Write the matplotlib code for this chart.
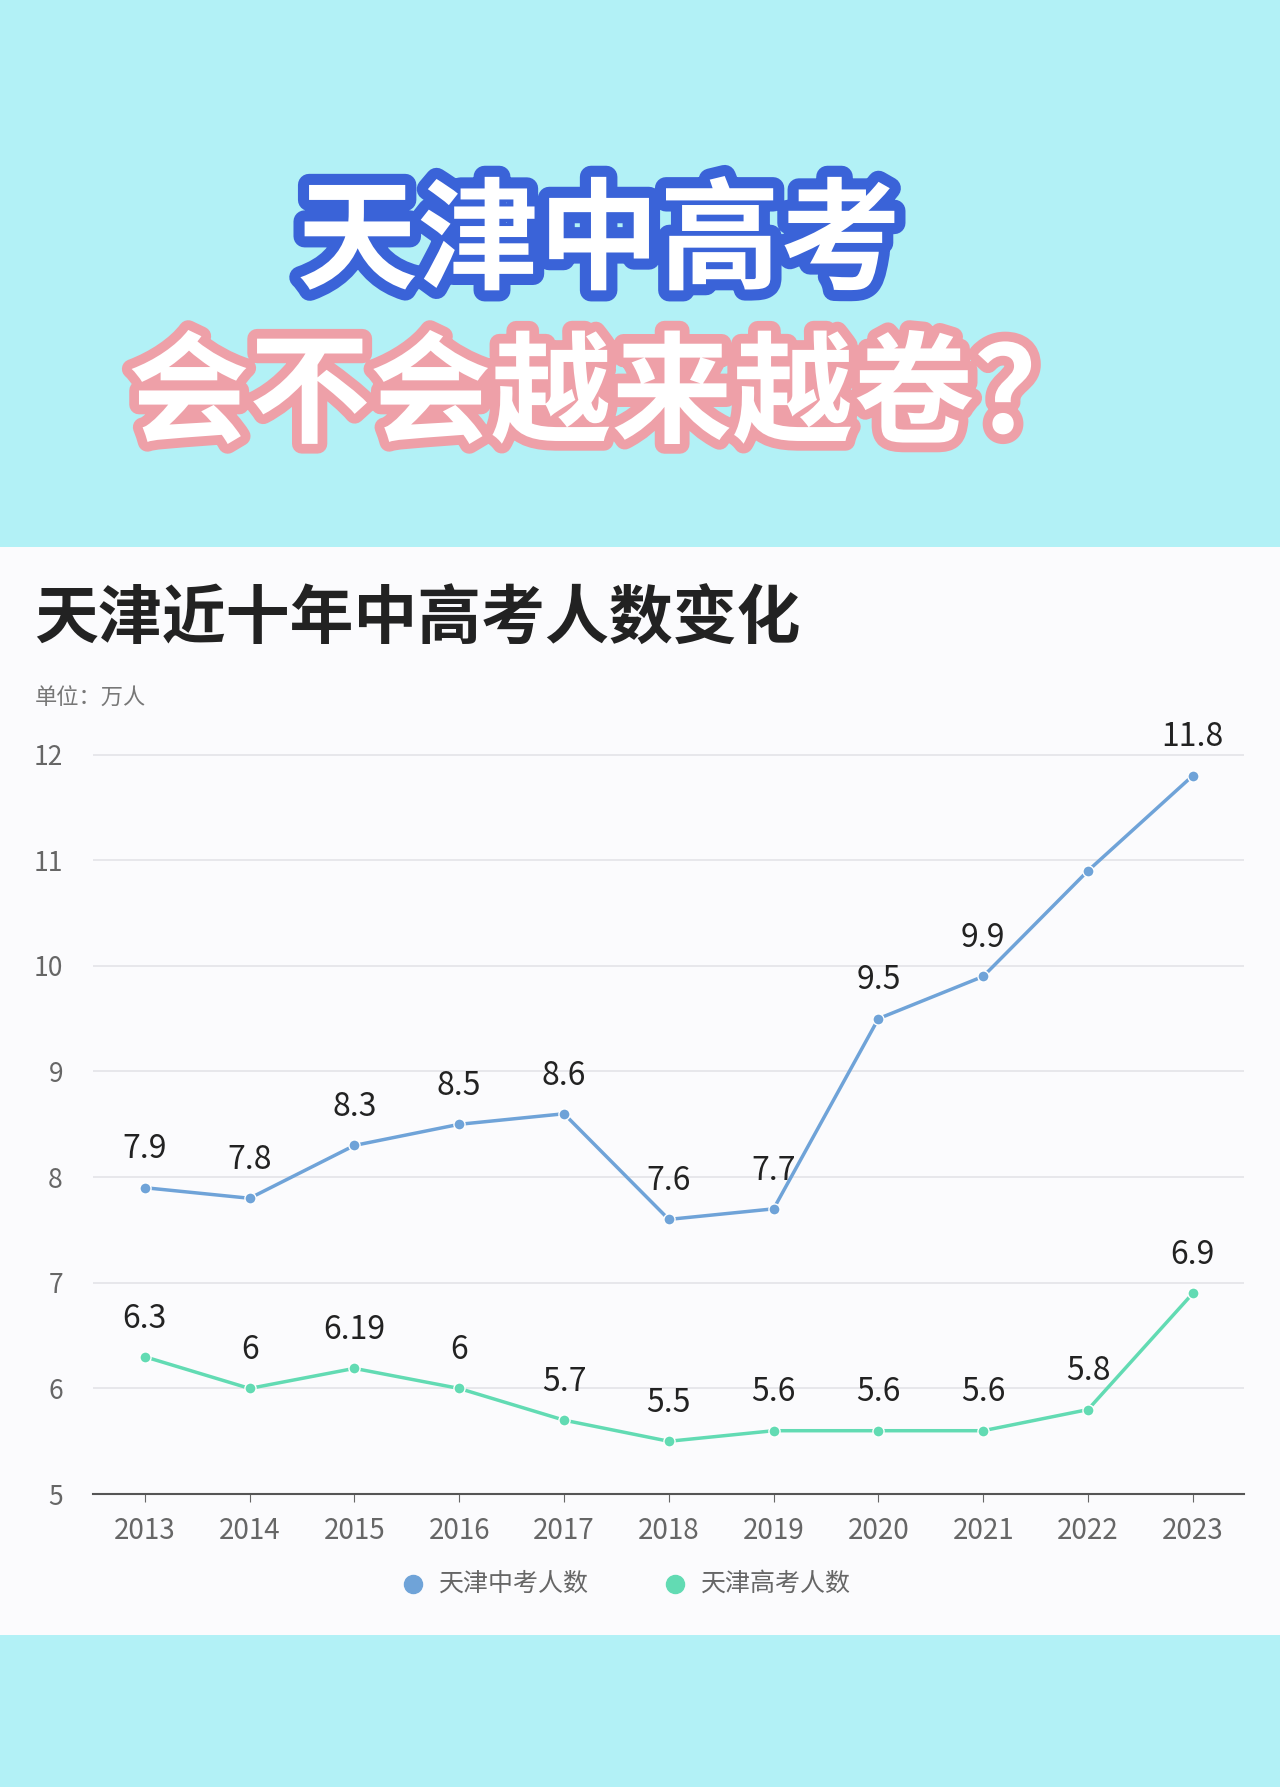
import matplotlib
matplotlib.use("Agg")
import matplotlib.pyplot as plt
import matplotlib.patheffects as pe
from matplotlib.patches import Rectangle

plt.rcParams['font.family'] = ['Noto Sans CJK SC', 'DejaVu Sans']

years = [2013, 2014, 2015, 2016, 2017, 2018, 2019, 2020, 2021, 2022, 2023]
zhongkao = [7.9, 7.8, 8.3, 8.5, 8.6, 7.6, 7.7, 9.5, 9.9, 10.9, 11.8]
gaokao = [6.3, 6.0, 6.19, 6.0, 5.7, 5.5, 5.6, 5.6, 5.6, 5.8, 6.9]
zk_labels = ["7.9", "7.8", "8.3", "8.5", "8.6", "7.6", "7.7", "9.5", "9.9", "", "11.8"]
gk_labels = ["6.3", "6", "6.19", "6", "5.7", "5.5", "5.6", "5.6", "5.6", "5.8", "6.9"]
yticks = [5, 6, 7, 8, 9, 10, 11, 12]

BG = "#b2f1f6"
BLUE = "#6fa3d8"
GREEN = "#62dbb3"

fig = plt.figure(figsize=(12.8, 17.87), dpi=100)
fig.patch.set_facecolor(BG)
fig.add_artist(Rectangle((0, 1 - 1435/1568), 1, (1435-480)/1568, transform=fig.transFigure,
                         facecolor="#fbfbfd", edgecolor="none", zorder=0))

fig.text(0.468, 0.863, "天津中高考", ha="center", va="center", fontsize=87, fontweight="bold",
         color="white", path_effects=[pe.withStroke(linewidth=16, foreground="#3a63d8")])
fig.text(0.478, 0.777, "会不会越来越卷？", ha="center", va="center", fontsize=87, fontweight="bold",
         color="white", path_effects=[pe.withStroke(linewidth=14, foreground="#eea0a8")])

fig.text(0.027, 0.653, "天津近十年中高考人数变化", ha="left", va="center", fontsize=46,
         fontweight="heavy", color="#222222")
fig.text(0.027, 0.609, "单位：万人", ha="left", va="center", fontsize=16, color="#777777")

ax = fig.add_axes([0.073, 1 - 1311/1568, 0.899, (1311-650)/1568])
ax.set_facecolor("none")
ax.set_xlim(2012.51, 2023.49)
ax.set_ylim(5, 12.13)
ax.set_yticks(yticks)
ax.set_xticks(years)
ax.grid(axis="y", color="#e4e4e8", linewidth=1.2)
for s in ["top", "right", "left"]:
    ax.spines[s].set_visible(False)
ax.spines["bottom"].set_color("#555555")
ax.spines["bottom"].set_linewidth(1.5)
ax.tick_params(axis="y", length=0, labelsize=19, colors="#666666", pad=22)
ax.tick_params(axis="x", length=6, labelsize=20, colors="#666666", pad=10)

ax.plot(years, zhongkao, color=BLUE, lw=2.5, marker="o", ms=8, mfc=BLUE, mec="white")
ax.plot(years, gaokao, color=GREEN, lw=2.5, marker="o", ms=8, mfc=GREEN, mec="white")
for x, y, t in zip(years, zhongkao, zk_labels):
    if t:
        ax.annotate(t, (x, y), xytext=(0, 16), textcoords="offset points", ha="center",
                    va="bottom", fontsize=23, fontweight="medium", color="#222222")
for x, y, t in zip(years, gaokao, gk_labels):
    ax.annotate(t, (x, y), xytext=(0, 16), textcoords="offset points", ha="center",
                va="bottom", fontsize=23, fontweight="medium", color="#222222")

leg_y = 1 - 1390/1568
fig.add_artist(plt.Line2D([362/1123], [leg_y], marker="o", ms=13, color=BLUE, transform=fig.transFigure))
fig.text(385/1123, leg_y, "天津中考人数", ha="left", va="center", fontsize=18, color="#666666")
fig.add_artist(plt.Line2D([592/1123], [leg_y], marker="o", ms=13, color=GREEN, transform=fig.transFigure))
fig.text(615/1123, leg_y, "天津高考人数", ha="left", va="center", fontsize=18, color="#666666")

fig.savefig("out.png", dpi=100, facecolor=fig.get_facecolor())
